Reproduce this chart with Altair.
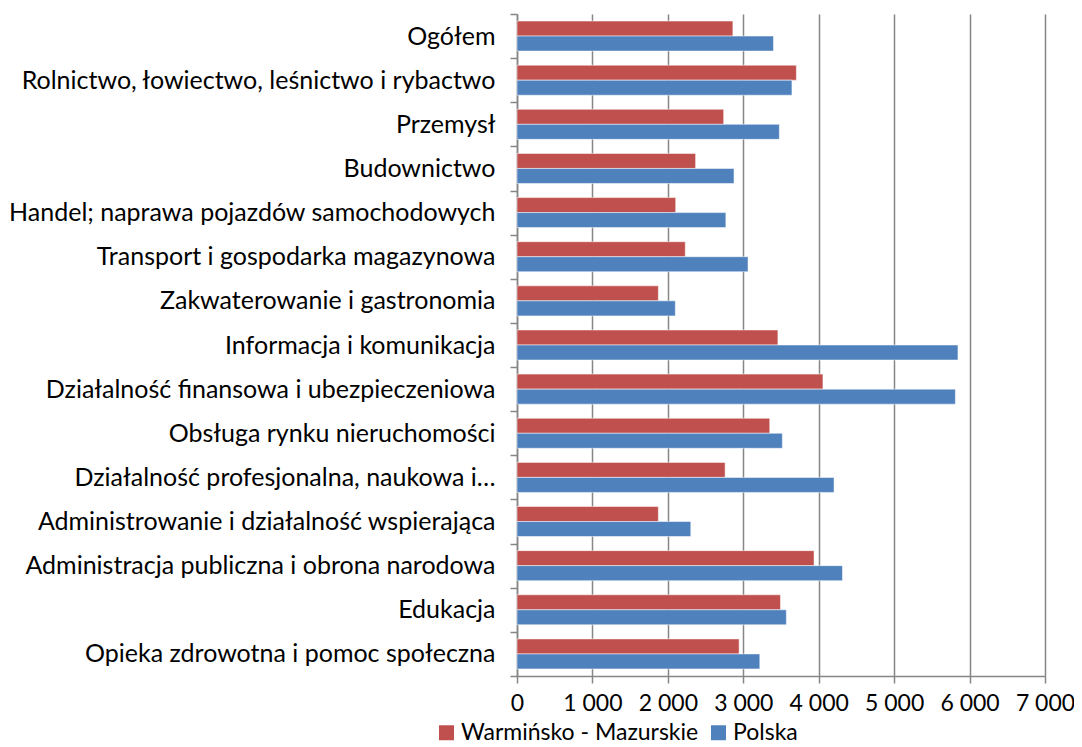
import altair as alt
import pandas as pd

categories = [
    "Ogółem",
    "Rolnictwo, łowiectwo, leśnictwo i rybactwo",
    "Przemysł",
    "Budownictwo",
    "Handel; naprawa pojazdów samochodowych",
    "Transport i gospodarka magazynowa",
    "Zakwaterowanie i gastronomia",
    "Informacja i komunikacja",
    "Działalność finansowa i ubezpieczeniowa",
    "Obsługa rynku nieruchomości",
    "Działalność profesjonalna, naukowa i…",
    "Administrowanie i działalność wspierająca",
    "Administracja publiczna i obrona narodowa",
    "Edukacja",
    "Opieka zdrowotna i pomoc społeczna",
]
warminsko = [2862, 3704, 2740, 2368, 2104, 2231, 1874, 3459, 4056, 3351, 2759, 1874, 3938, 3493, 2945]
polska = [3400, 3645, 3478, 2877, 2769, 3063, 2099, 5846, 5812, 3518, 4203, 2304, 4315, 3571, 3219]
series = ["Warmińsko - Mazurskie", "Polska"]
colors = ["#C0504D", "#4F81BD"]
x_ticks = [0, 1000, 2000, 3000, 4000, 5000, 6000, 7000]

rows = []
for c, w, p in zip(categories, warminsko, polska):
    rows.append({"cat": c, "series": series[0], "value": w})
    rows.append({"cat": c, "series": series[1], "value": p})
df = pd.DataFrame(rows)

FONT = "Lato"
FS = 25
FS2 = 23
GRID = "#868686"

chart = alt.Chart(df).mark_bar(stroke="white", strokeOpacity=0.5, strokeWidth=1).encode(
    x=alt.X(
        "value:Q",
        scale=alt.Scale(domain=[0, 7000], nice=False),
        axis=alt.Axis(
            values=x_ticks,
            labelExpr="replace(format(datum.value, ','), ',', ' ')",
            labelOverlap=False, labelFlush=False,
            grid=True, gridColor=GRID, gridWidth=1.5,
            domainColor=GRID, domainWidth=1.5,
            tickColor=GRID, tickSize=7, tickWidth=1.5,
            title=None, labelFont=FONT, labelFontSize=FS2, labelColor="black",
            labelPadding=9,
        ),
    ),
    y=alt.Y(
        "cat:N", sort=categories,
        scale=alt.Scale(paddingInner=0, paddingOuter=0),
        axis=alt.Axis(
            title=None, tickBand="extent", tickSize=7, tickWidth=1.5, tickColor=GRID,
            domainColor=GRID, domainWidth=1.5,
            labelFont=FONT, labelFontSize=FS, labelColor="black",
            labelPadding=15, labelLimit=700, grid=False,
        ),
    ),
    yOffset=alt.YOffset(
        "series:N", sort=series,
        scale=alt.Scale(paddingOuter=0.47, paddingInner=0),
    ),
    color=alt.Color(
        "series:N",
        scale=alt.Scale(domain=series, range=colors),
        legend=alt.Legend(
            title=None, orient="none", legendX=-82, legendY=707,
            direction="horizontal", symbolType="square", symbolSize=225,
            symbolStrokeWidth=0, labelFont=FONT, labelFontSize=FS2,
            labelColor="black", columnPadding=8, labelOffset=3, labelLimit=0,
        ),
    ),
).properties(
    width=528, height=662,
    padding={"left": 509, "top": 6, "right": 29, "bottom": 72},
    autosize="none",
).configure_view(stroke=None)

chart.save("out.html", embed_options={"renderer": "svg", "actions": False})
